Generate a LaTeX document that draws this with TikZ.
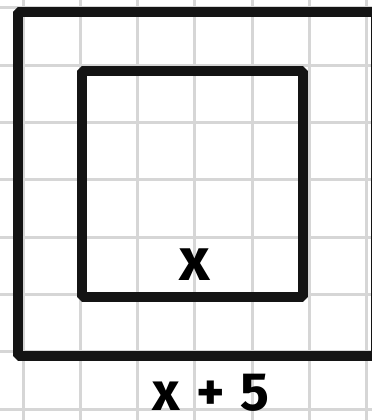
\documentclass[tikz,border=0pt]{standalone}
\usepackage{fontspec}
\setmainfont{Fira Sans}
\definecolor{gridcol}{rgb}{0.84,0.84,0.84}
\tikzset{marker/.style={anchor=base,inner sep=0pt,font=\bfseries}}
\begin{document}
\begin{tikzpicture}[line join=bevel,]
  \useasboundingbox (0bp,0bp) rectangle (372bp,420bp);
  \clip (0bp,0bp) rectangle (372bp,420bp);
%%
  % Grid
  \pgfsetcolor{gridcol}
  \pgfsetlinewidth{3bp}
  \foreach \gx in {23,80.3,137.6,194.9,252.2,309.5,366.8}
    \draw (\gx bp,0bp) -- (\gx bp,420bp);
  \foreach \gy in {412,354.7,297.4,240.1,182.8,125.5,68.2,10.9}
    \draw (0bp,\gy bp) -- (372bp,\gy bp);
  % Square: outer
  \pgfsetcolor{black!92}
  \pgfsetlinewidth{10bp}
  \draw (17.5bp,408bp) -- (376bp,408bp) -- (376bp,64bp) -- (17.5bp,64bp) -- cycle;
  % Square: inner
  \draw (82bp,349bp) -- (303bp,349bp) -- (303bp,123bp) -- (82bp,123bp) -- cycle;
  % Labels
  \node [marker] (inner) at (195bp,139bp) {\fontsize{60}{60}\selectfont x};
  \node [marker] (outer) at (211bp,10bp) {\fontsize{54}{54}\selectfont x\hspace{16bp}+\hspace{16bp}5};
%
\end{tikzpicture}
\end{document}
